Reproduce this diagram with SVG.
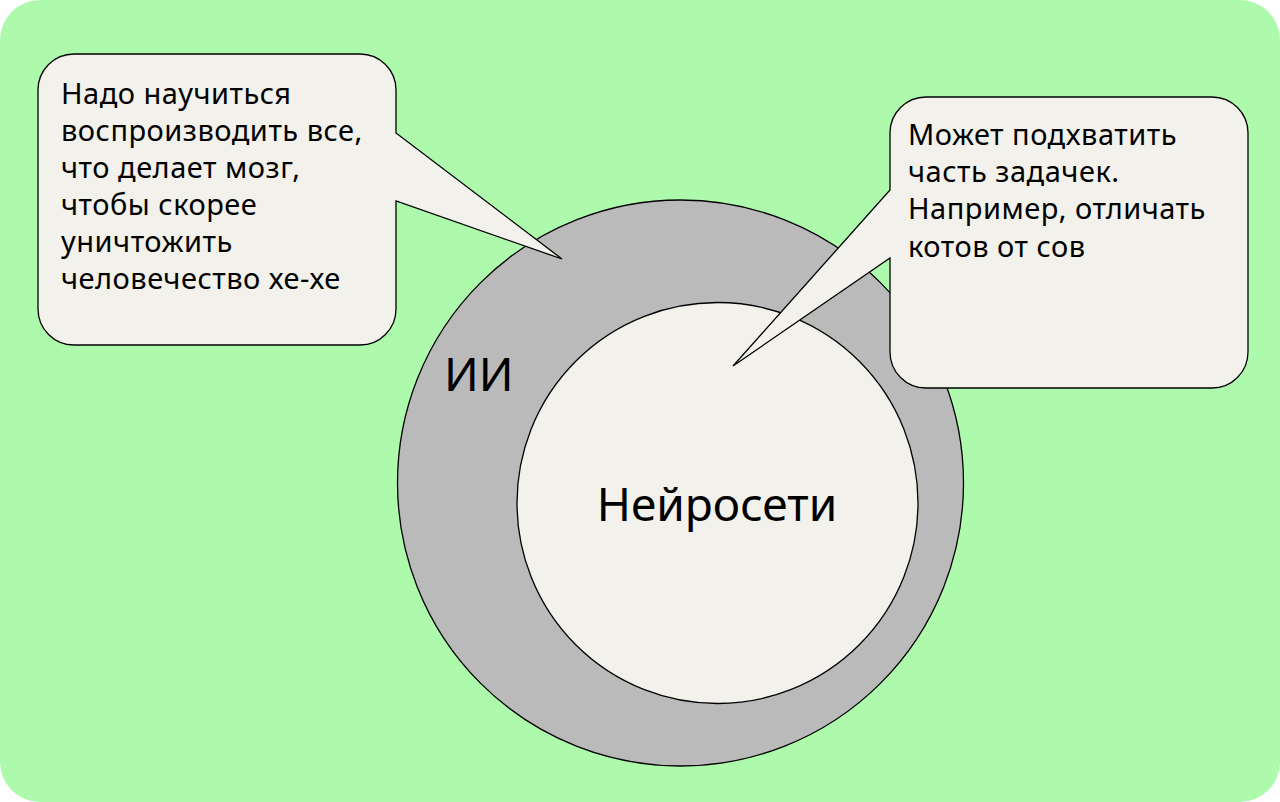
<svg xmlns="http://www.w3.org/2000/svg" width="1280" height="802" viewBox="0 0 1280 802">
<style>
.bg{fill:#adfaad}
.shape{stroke:#000;stroke-width:1.3}
.gray{fill:#bababa}
.cream{fill:#f3f1eb}
.t{font-family:"Noto Sans","Open Sans",sans-serif;fill:#000}
.small{font-size:29px;letter-spacing:0.5px}
.big{font-size:46px}
</style>
<rect class="bg" x="0" y="0" width="1280" height="802" rx="40"/>
<g id="ai">
<circle class="shape gray" cx="680.5" cy="483" r="283"/>
<text class="t big" x="444" y="391">ИИ</text>
</g>
<g id="nn">
<circle class="shape cream" cx="717.5" cy="503" r="200.5"/>
<text class="t big" x="717" y="521" text-anchor="middle">Нейросети</text>
</g>
<g id="connectors"></g>
<g id="callout-left">
<path class="shape cream" d="M74 54 H360 A36 36 0 0 1 396 90 V133 L562 259 L396 201 V309 A36 36 0 0 1 360 345 H74 A36 36 0 0 1 38 309 V90 A36 36 0 0 1 74 54 Z"/>
<text class="t small"><tspan x="61" y="104">Надо научиться</tspan><tspan x="61" y="141">воспроизводить все,</tspan><tspan x="61" y="178">что делает мозг,</tspan><tspan x="61" y="215">чтобы скорее</tspan><tspan x="61" y="252">уничтожить</tspan><tspan x="61" y="289">человечество хе-хе</tspan></text>
</g>
<g id="callout-right">
<path class="shape cream" d="M926 97 H1212 A36 36 0 0 1 1248 133 V352 A36 36 0 0 1 1212 388 H926 A36 36 0 0 1 890 352 V258 L733 366 L890 190 V133 A36 36 0 0 1 926 97 Z"/>
<text class="t small"><tspan x="908" y="145">Может подхватить</tspan><tspan x="908" y="182">часть задачек.</tspan><tspan x="908" y="219">Например, отличать</tspan><tspan x="908" y="257">котов от сов</tspan></text>
</g>
</svg>
